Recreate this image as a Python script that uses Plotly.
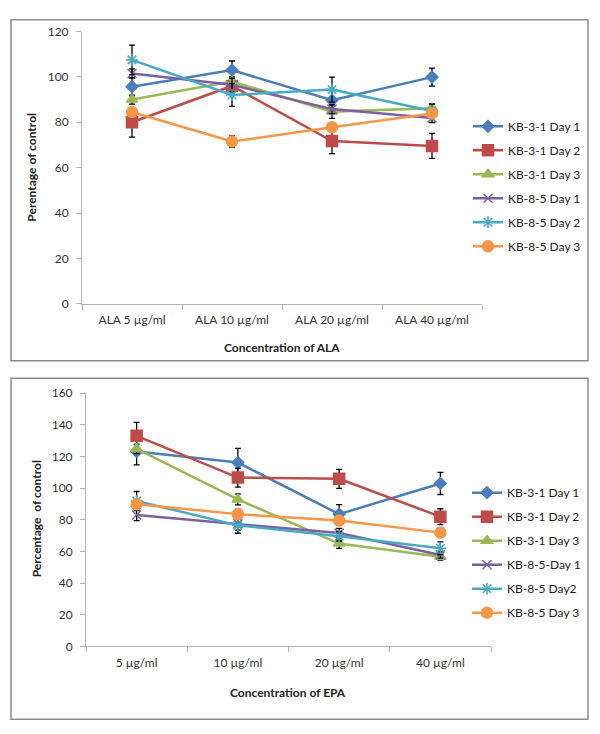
import plotly.graph_objects as go

# ---- data: top panel (ALA) ----
ala_cats = ["ALA 5 µg/ml", "ALA 10 µg/ml", "ALA 20 µg/ml", "ALA 40 µg/ml"]
ala_names = ["KB-3-1 Day 1", "KB-3-1 Day 2", "KB-3-1 Day 3",
             "KB-8-5 Day 1", "KB-8-5 Day 2", "KB-8-5 Day 3"]
ala_k31_d1 = [95.7, 103.0, 89.7, 99.9]
ala_k31_d2 = [80.0, 96.0, 71.7, 69.6]
ala_k31_d3 = [90.0, 98.0, 84.7, 86.2]
ala_k85_d1 = [101.5, 96.5, 85.8, 81.9]
ala_k85_d2 = [107.5, 92.0, 94.4, 85.0]
ala_k85_d3 = [84.5, 71.5, 77.8, 83.9]
ala_err_k31_d1 = [4.0, 4.0, 4.5, 4.0]
ala_err_k31_d2 = [6.5, 3.0, 5.5, 5.5]
ala_err_k31_d3 = [2.0, 2.0, 3.0, 2.0]
ala_err_k85_d1 = [2.0, 3.0, 2.0, 2.0]
ala_err_k85_d2 = [6.5, 5.0, 5.5, 3.0]
ala_err_k85_d3 = [2.0, 2.5, 2.0, 2.0]

# ---- data: bottom panel (EPA) ----
epa_cats = ["5 µg/ml", "10 µg/ml", "20 µg/ml", "40 µg/ml"]
epa_names = ["KB-3-1 Day 1", "KB-3-1 Day 2", "KB-3-1 Day 3",
             "KB-8-5-Day 1", "KB-8-5 Day2", "KB-8-5 Day 3"]
epa_k31_d1 = [123.2, 116.2, 83.6, 103.0]
epa_k31_d2 = [133.1, 106.7, 105.9, 82.0]
epa_k31_d3 = [124.9, 92.9, 65.0, 56.6]
epa_k85_d1 = [83.0, 77.5, 71.6, 57.8]
epa_k85_d2 = [91.9, 76.5, 69.6, 62.0]
epa_k85_d3 = [89.8, 83.6, 79.5, 71.9]
epa_err_k31_d1 = [8.5, 9.0, 6.0, 7.0]
epa_err_k31_d2 = [8.5, 6.0, 6.0, 5.0]
epa_err_k31_d3 = [3.0, 3.5, 3.0, 2.0]
epa_err_k85_d1 = [3.5, 4.0, 3.0, 2.0]
epa_err_k85_d2 = [6.0, 5.0, 3.0, 4.0]
epa_err_k85_d3 = [3.0, 3.0, 3.0, 3.0]

colors = ["#4A7EBB", "#BE4B48", "#98B954", "#7D60A0", "#46AAC5", "#F79646"]
symbols = ["diamond", "square", "triangle-up", "x-thin-open", "asterisk-open", "circle"]
msizes = [9, 11, 10, 9, 10, 11]

FONT = "Lato, Carlito, Calibri, Arial, sans-serif"

fig = go.Figure()

ala_vals = [ala_k31_d1, ala_k31_d2, ala_k31_d3, ala_k85_d1, ala_k85_d2, ala_k85_d3]
ala_errs = [ala_err_k31_d1, ala_err_k31_d2, ala_err_k31_d3,
            ala_err_k85_d1, ala_err_k85_d2, ala_err_k85_d3]
epa_vals = [epa_k31_d1, epa_k31_d2, epa_k31_d3, epa_k85_d1, epa_k85_d2, epa_k85_d3]
epa_errs = [epa_err_k31_d1, epa_err_k31_d2, epa_err_k31_d3,
            epa_err_k85_d1, epa_err_k85_d2, epa_err_k85_d3]

for i in range(6):
    mk = dict(symbol=symbols[i], size=msizes[i], color=colors[i],
              line=dict(color=colors[i], width=1.5))
    fig.add_trace(go.Scatter(
        x=ala_cats, y=ala_vals[i], name=ala_names[i], mode="lines+markers",
        line=dict(color=colors[i], width=2.5), marker=mk,
        error_y=dict(type="data", array=ala_errs[i], color="black", thickness=1.3, width=3),
        xaxis="x", yaxis="y", legend="legend", legendgroup="a%d" % i))
for i in range(6):
    mk = dict(symbol=symbols[i], size=msizes[i], color=colors[i],
              line=dict(color=colors[i], width=1.5))
    fig.add_trace(go.Scatter(
        x=epa_cats, y=epa_vals[i], name=epa_names[i], mode="lines+markers",
        line=dict(color=colors[i], width=2.5), marker=mk,
        error_y=dict(type="data", array=epa_errs[i], color="black", thickness=1.3, width=3),
        xaxis="x2", yaxis="y2", legend="legend2", legendgroup="b%d" % i))

W, H = 600, 734
def px(x): return x / W
def py(y): return 1 - y / H

axis_common = dict(showgrid=False, zeroline=False, showline=True, linecolor="#b3b3b3",
                   linewidth=1, ticks="outside", tickcolor="#b3b3b3", ticklen=5,
                   ticklabelstandoff=5,
                   tickfont=dict(family=FONT, size=12, color="#333333"))

fig.update_layout(
    width=W, height=H, margin=dict(l=0, r=0, t=0, b=0),
    paper_bgcolor="white", plot_bgcolor="white",
    font=dict(family=FONT, color="#222222"),
    xaxis=dict(domain=[px(82), px(482)], anchor="y", type="category",
               range=[-0.5, 3.5], tickson="boundaries", **axis_common),
    yaxis=dict(domain=[py(302), py(24)], anchor="x", range=[0, 120], dtick=20,
               **axis_common),
    xaxis2=dict(domain=[px(86), px(491)], anchor="y2", type="category",
                range=[-0.5, 3.5], tickson="boundaries", **axis_common),
    yaxis2=dict(domain=[py(651.7), py(393.3)], anchor="x2", range=[0, 160], dtick=20,
                **axis_common),
    legend=dict(x=px(468), y=py(106), xanchor="left", yanchor="top",
                font=dict(family=FONT, size=12, color="#222222"),
                tracegroupgap=5, bgcolor="rgba(0,0,0,0)"),
    legend2=dict(x=px(467), y=py(480), xanchor="left", yanchor="top",
                 font=dict(family=FONT, size=12, color="#222222"),
                 tracegroupgap=5, bgcolor="rgba(0,0,0,0)"),
    shapes=[
        dict(type="rect", xref="paper", yref="paper", x0=px(11), x1=px(588),
             y0=py(360), y1=py(12), line=dict(color="#8c8c8c", width=1.5)),
        dict(type="rect", xref="paper", yref="paper", x0=px(11), x1=px(588),
             y0=py(726), y1=py(378), line=dict(color="#8c8c8c", width=1.5)),
    ],
    annotations=[
        dict(text="<b>Concentration of ALA</b>", xref="paper", yref="paper",
             x=px(282), y=py(347), xanchor="center", yanchor="middle",
             showarrow=False, font=dict(family=FONT, size=12)),
        dict(text="<b>Perentage of control</b>", xref="paper", yref="paper",
             x=px(32), y=py(163), xanchor="center", yanchor="middle", textangle=-90,
             showarrow=False, font=dict(family=FONT, size=12)),
        dict(text="<b>Concentration of EPA</b>", xref="paper", yref="paper",
             x=px(288), y=py(699), xanchor="center", yanchor="middle",
             showarrow=False, font=dict(family=FONT, size=12)),
        dict(text="<b>Percentage  of control</b>", xref="paper", yref="paper",
             x=px(36), y=py(522), xanchor="center", yanchor="middle", textangle=-90,
             showarrow=False, font=dict(family=FONT, size=12)),
    ],
)

fig.write_html("out.html", config={"displayModeBar": False},
               post_script="document.body.style.margin='0';document.body.style.overflow='hidden';"
                           "document.documentElement.style.overflow='hidden';")
